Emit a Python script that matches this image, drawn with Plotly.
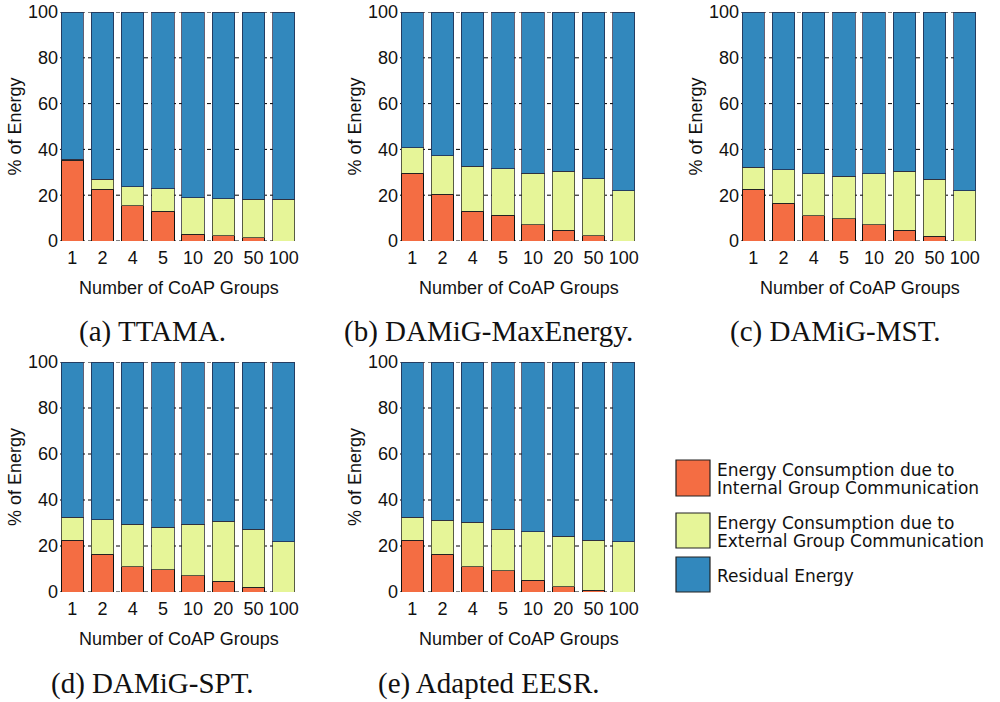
import plotly.graph_objects as go

groups = ["1", "2", "4", "5", "10", "20", "50", "100"]

series_names = [
    "Energy Consumption due to<br>Internal Group Communication",
    "Energy Consumption due to<br>External Group Communication",
    "Residual Energy",
]
colors = ["#f46d43", "#e6f598", "#3288bd"]

captions = ["(a) TTAMA.", "(b) DAMiG-MaxEnergy.", "(c) DAMiG-MST.",
            "(d) DAMiG-SPT.", "(e) Adapted EESR."]

y_ticks = [0, 20, 40, 60, 80, 100]

ttama_int = [35.3, 22.5, 15.3, 13.1, 2.9, 2.3, 1.4, 0.0]
ttama_ext = [0.4, 4.4, 8.4, 9.7, 16.0, 16.2, 16.8, 18.2]
ttama_res = [64.3, 73.1, 76.3, 77.2, 81.1, 81.5, 81.8, 81.8]

maxen_int = [29.5, 20.5, 12.9, 11.2, 7.1, 4.6, 2.2, 0.0]
maxen_ext = [11.3, 16.7, 19.8, 20.3, 22.4, 25.9, 25.0, 21.9]
maxen_res = [59.2, 62.8, 67.3, 68.5, 70.5, 69.5, 72.8, 78.1]

mst_int = [22.5, 16.4, 11.0, 9.7, 7.0, 4.6, 2.0, 0.0]
mst_ext = [9.8, 14.7, 18.4, 18.5, 22.4, 25.8, 25.0, 21.9]
mst_res = [67.7, 68.9, 70.6, 71.8, 70.6, 69.6, 73.0, 78.1]

spt_int = [22.5, 16.4, 10.9, 9.7, 7.0, 4.6, 2.0, 0.0]
spt_ext = [10.1, 15.0, 18.5, 18.5, 22.5, 26.1, 25.2, 21.9]
spt_res = [67.4, 68.6, 70.6, 71.8, 70.5, 69.3, 72.8, 78.1]

eesr_int = [22.5, 16.4, 10.9, 9.2, 5.2, 2.2, 0.7, 0.0]
eesr_ext = [10.1, 14.7, 19.5, 18.0, 21.1, 22.1, 21.8, 21.9]
eesr_res = [67.4, 68.9, 69.6, 72.8, 73.7, 75.7, 77.5, 78.1]

panels = [
    (ttama_int, ttama_ext, ttama_res),
    (maxen_int, maxen_ext, maxen_res),
    (mst_int, mst_ext, mst_res),
    (spt_int, spt_ext, spt_res),
    (eesr_int, eesr_ext, eesr_res),
]

W, H = 1000, 702
# plot-area pixel boxes (left, right, top, bottom)
boxes = [
    (60, 298, 12, 241),
    (400, 638, 12, 241),
    (741, 979, 12, 241),
    (60, 298, 362, 592),
    (400, 638, 362, 592),
]
caption_cx = [152, 488, 835, 152, 488]

fig = go.Figure()
tick_font = dict(family="Liberation Sans, Arial, sans-serif", size=18, color="#111")
line_colors = ["#111111", "rgba(40,40,40,0.75)", "rgba(30,30,60,0.7)"]

annotations = []
shapes = []
for i, (vals, box) in enumerate(zip(panels, boxes)):
    n = "" if i == 0 else str(i + 1)
    xa, ya = "x" + n, "y" + n
    for k in range(3):
        fig.add_trace(go.Bar(
            x=groups, y=vals[k], xaxis=xa, yaxis=ya,
            marker=dict(color=colors[k], line=dict(color=line_colors[k], width=1)),
            name=series_names[k], showlegend=False,
        ))
    l, r, t, b = box
    fig.update_layout(**{
        "xaxis" + n: dict(
            domain=[l / W, r / W], anchor=ya, type="category",
            range=[-0.404, 7.47], showgrid=False, zeroline=False, automargin=False,
            showline=False, ticks="", tickfont=tick_font, ticklabelstandoff=4,
        ),
        "yaxis" + n: dict(
            domain=[1 - b / H, 1 - t / H], anchor=xa, range=[0, 100],
            tickvals=y_ticks, showgrid=False, automargin=False,
            zeroline=False, showline=False, ticks="", tickfont=tick_font,
            ticklabelstandoff=1,
        ),
    })
    # dashed horizontal grid lines (behind bars)
    for yv in y_ticks:
        shapes.append(dict(
            type="line", xref=xa + " domain", yref=ya, x0=0, x1=1, y0=yv, y1=yv,
            line=dict(color="#000000", width=1, dash="4px,3px"), layer="below",
        ))
    # y-axis title
    annotations.append(dict(
        text="% of Energy", textangle=-90, xref="paper", yref="paper",
        x=(l - 45) / W, y=1 - ((t + b) / 2) / H, xanchor="center", yanchor="middle",
        showarrow=False, font=dict(family="Liberation Sans, Arial, sans-serif", size=18, color="#111"),
    ))
    # x-axis title
    annotations.append(dict(
        text="Number of CoAP Groups", xref="paper", yref="paper",
        x=((l + r) / 2) / W, y=1 - (b + 47) / H, xanchor="center", yanchor="middle",
        showarrow=False, font=dict(family="Liberation Sans, Arial, sans-serif", size=18, color="#111"),
    ))
    # caption
    annotations.append(dict(
        text=captions[i], xref="paper", yref="paper",
        x=caption_cx[i] / W, y=1 - (b + 91) / H, xanchor="center", yanchor="middle",
        showarrow=False, font=dict(family="Liberation Serif, Times New Roman, serif", size=29, color="#111"),
    ))

# custom legend
legend_boxes = [(460, 496), (513, 548), (557, 592)]
legend_lines = [["Energy Consumption due to", "Internal Group Communication"],
                ["Energy Consumption due to", "External Group Communication"],
                ["Residual Energy"]]
for k, ((y0, y1), lines) in enumerate(zip(legend_boxes, legend_lines)):
    shapes.append(dict(type="rect", xref="paper", yref="paper",
                       x0=676 / W, x1=710 / W, y0=1 - y1 / H, y1=1 - y0 / H,
                       fillcolor=colors[k], line=dict(color="#222", width=1.2)))
    cy = (y0 + y1) / 2
    if len(lines) == 2:
        ys = [cy - 9, cy + 9]
    else:
        ys = [cy]
    for txt, yy in zip(lines, ys):
        annotations.append(dict(
            text=txt, xref="paper", yref="paper", x=715 / W, y=1 - (yy + 1) / H,
            xanchor="left", yanchor="middle", showarrow=False,
            font=dict(family="DejaVu Sans, sans-serif", size=17, color="#111"),
        ))

fig.update_layout(
    width=W, height=H, margin=dict(l=0, r=0, t=0, b=0, autoexpand=False),
    paper_bgcolor="white", plot_bgcolor="white",
    barmode="stack", bargap=0.26, showlegend=False,
    annotations=annotations, shapes=shapes,
)

fig.write_html("out.html")
